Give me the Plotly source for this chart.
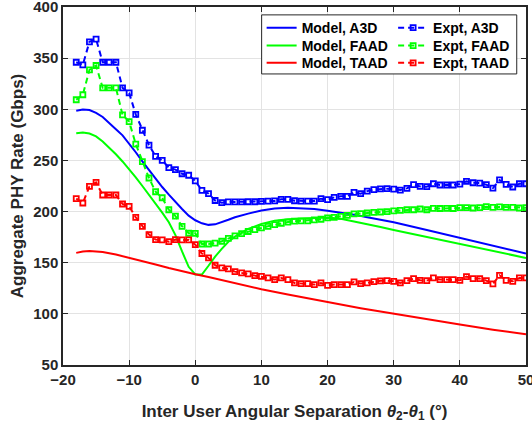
import plotly.graph_objects as go

# ---------------- data ----------------
x_expt = [-18, -17, -16, -15, -14, -13, -12, -11, -10, -9, -8, -7, -6, -5, -4, -3, -2, -1,
          0, 1, 2, 3, 4, 5, 6, 7, 8, 9, 10, 11, 12, 13, 14, 15, 16, 17, 18, 19, 20, 21,
          22, 23, 24, 25, 26, 27, 28, 29, 30, 31, 32, 33, 34, 35, 36, 37, 38, 39, 40, 41,
          42, 43, 44, 45, 46, 47, 48, 49, 50]

expt_a3d = [346, 343.5, 366, 368.5, 346, 346, 346, 321, 316, 295, 279.5, 265, 254, 250, 243, 241, 237, 235.5,
            230, 220.7, 217.5, 210.8, 208.7, 209.5, 209.4, 209.4, 209.6, 209.6, 210, 210.2, 210.4, 212, 212, 210.6,
            210.3, 210.3, 210.3, 212.6, 211.6, 213.9, 214.9, 214.9, 218.8, 217.5, 220, 221.4, 222.2, 222.4, 222,
            221, 222.7, 226.3, 224.6, 224.3, 227.2, 226, 226, 226, 226.9, 229.5, 228.2, 227.9, 226.3, 223,
            230.9, 226.6, 224, 227.2, 227.2]

expt_faad = [309.3, 314.2, 338.6, 342.8, 321, 321, 321, 294.5, 288, 266, 248.8, 232.8, 219.4, 213.5, 201.8, 195.6,
             185.6, 178.8, 178.7, 168.3, 168.3, 169.2, 171, 173.8, 176.2, 178.4, 180.5, 182.3, 184, 185.6, 187.2,
             188.6, 189.7, 190.6, 191, 191, 191.8, 192.5, 193.8, 194.4, 195.4, 196.3, 197.7, 198, 198.6, 199.2,
             199.6, 200, 200.6, 201.2, 201.8, 201.8, 202.5, 201.8, 203.1, 203, 203.1, 203, 203.8, 203.8, 203.5,
             203.8, 204.8, 204.2, 204.5, 204.2, 204.2, 203.5, 203.8]

expt_taad = [212.6, 208.4, 224.6, 228.5, 216.2, 216.2, 216.2, 207.4, 205, 194.4, 185.6, 177.5, 172.6, 172.3, 170.6,
             172.6, 172.3, 172.3, 167.7, 159, 154.7, 147.5, 144.9, 143.9, 141.3, 140, 139, 137.4, 136.7, 135.1,
             133.5, 135.1, 133.5, 130.2, 129.6, 129.6, 128.6, 130.2, 127.9, 128.6, 128.6, 128.6, 131.2, 129.6,
             130.2, 131.5, 132.3, 132.5, 131.8, 130.2, 132.5, 134.5, 132.8, 132.5, 135.1, 133.5, 133.5, 133.5,
             132.8, 136.4, 134.5, 134.5, 132.5, 129.3, 137.7, 132.8, 131.8, 135.1, 135.1]

x_model = [-18, -17, -16, -15, -14, -13, -12, -11, -10, -9, -8, -7, -6, -5, -4, -3, -2, -1, 0, 1, 2, 3, 4,
           5, 6, 7, 8, 10, 12, 14, 16, 18, 20, 22, 24, 26, 28, 30, 35, 40, 45, 50]

model_a3d = [298.5, 299.8, 299.3, 296.5, 292.5, 286, 280.5, 274.5, 266.5, 258, 249, 240.5, 232, 224, 216.5, 209,
             202.5, 196, 191.5, 188.5, 187, 187.5, 189.5, 192, 194.5, 196.5, 198, 201, 203, 203.8, 203.5, 202.5,
             200.8, 199, 197, 194.5, 192, 189.5, 182, 174.5, 167, 159]

model_faad = [276.5, 277.3, 276.3, 273.5, 268.5, 262.5, 256, 249, 241.5, 233.5, 225, 216.5, 208, 199, 189.5, 177,
              161, 146, 138.5, 138.5, 147, 156, 163.5, 170.5, 175.5, 179.5, 183, 188, 191, 192.6, 193.3, 193.8,
              194.3, 193, 190.5, 188, 185, 182, 175, 168.3, 161.5, 154.7]

x_model_taad = [-18, -17, -16, -15, -14, -12, -10, -8, -6, -4, -2, 0, 2, 5, 8, 10, 14, 17, 20, 25, 30, 35, 40, 45, 50]
model_taad = [159.6, 161, 161.5, 161.3, 160.5, 158, 155, 151.8, 148.3, 144.8, 141.5, 138.8, 136, 131.5, 127, 124,
              119, 115, 111.5, 105.5, 100, 94.5, 89.5, 84.5, 80]

x_ticks = [-20, -10, 0, 10, 20, 30, 40, 50]
y_ticks = [50, 100, 150, 200, 250, 300, 350, 400]

# ---------------- figure ----------------
FONT = "Liberation Sans, Arial, sans-serif"
AX = "#262626"
BLUE, GREEN, RED = "#0000ff", "#00ff00", "#ff0000"

fig = go.Figure()

models = [("Model, A3D", x_model, model_a3d, BLUE),
          ("Model, FAAD", x_model, model_faad, GREEN),
          ("Model, TAAD", x_model_taad, model_taad, RED)]
expts = [("Expt, A3D", expt_a3d, BLUE),
         ("Expt, FAAD", expt_faad, GREEN),
         ("Expt, TAAD", expt_taad, RED)]

# one single-item legend per entry so rows can be placed exactly
row_y = [0.941, 0.891, 0.843]
leg_font = dict(family=FONT, size=14, color="#000000", weight="bold")
legends = {}

for i, (name, xs, ys, c) in enumerate(models):
    lname = "legend" if i == 0 else f"legend{i + 1}"
    fig.add_trace(go.Scatter(x=xs, y=ys, mode="lines", name=name,
                             line=dict(color=c, width=2), legend=lname))
    legends[lname] = dict(x=0.429, y=row_y[i], xanchor="left", yanchor="middle", font=leg_font,
                          bgcolor="rgba(0,0,0,0)", borderwidth=0, itemwidth=30)

for i, (name, ys, c) in enumerate(expts):
    lname = f"legend{i + 4}"
    fig.add_trace(go.Scatter(x=x_expt, y=ys, mode="lines+markers", name=name,
                             line=dict(color=c, width=2, dash="6px,4px"),
                             marker=dict(symbol="square-open", size=5, color=c,
                                         line=dict(color=c, width=1.8)),
                             legend=lname))
    legends[lname] = dict(x=0.713, y=row_y[i], xanchor="left", yanchor="middle", font=leg_font,
                          bgcolor="rgba(0,0,0,0)", borderwidth=0, itemwidth=30)

axis_common = dict(
    showline=True, linecolor=AX, linewidth=1.5, mirror="ticks",
    ticks="inside", ticklen=5, tickcolor=AX, tickwidth=1,
    showgrid=True, gridcolor="#e3e3e3", gridwidth=1,
    zeroline=False, automargin=False, ticklabeloverflow="allow",
    tickfont=dict(family=FONT, size=15, color=AX, weight="bold"),
)

fig.update_xaxes(range=[-20, 50], tickvals=x_ticks, **axis_common,
                 title=dict(text="Inter User Angular Separation <i>θ</i><sub>2</sub>-<i>θ</i><sub>1</sub> (°)",
                            font=dict(family=FONT, size=17, color=AX, weight="bold"),
                            standoff=18))
fig.update_yaxes(range=[50, 400], tickvals=y_ticks, **axis_common,
                 title=dict(text="Aggregate PHY Rate (Gbps)",
                            font=dict(family=FONT, size=17, color=AX, weight="bold"),
                            standoff=5))

fig.update_layout(
    width=532, height=425,
    margin=dict(l=63, r=6, t=7, b=60, autoexpand=False),
    paper_bgcolor="white", plot_bgcolor="white",
    showlegend=True,
    shapes=[dict(type="rect", xref="paper", yref="paper", x0=0.429, x1=0.980, y0=0.813, y1=0.978,
                 fillcolor="white", line=dict(color=AX, width=1), layer="above")],
    **legends,
)

fig.write_html("out.html", config={"displayModeBar": False},
               post_script="document.body.style.margin='0px';")
